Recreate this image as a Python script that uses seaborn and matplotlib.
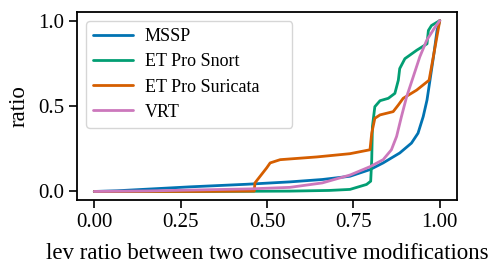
import pandas as pd
import seaborn as sns
import matplotlib.pyplot as plt

# Curve values
mssp_x = [0, 0.066, 0.277, 0.44, 0.566, 0.66, 0.74, 0.798, 0.836, 0.884, 0.918, 0.937,
          0.952, 0.963, 0.973, 0.983, 0.992, 1.0]
mssp_y = [0, 0.004, 0.027, 0.042, 0.056, 0.07, 0.089, 0.128, 0.167, 0.225, 0.283, 0.341,
          0.438, 0.535, 0.670, 0.806, 0.942, 1.0]

snort_x = [0, 0.3, 0.566, 0.68, 0.74, 0.788, 0.80, 0.803, 0.805, 0.812, 0.827, 0.851,
           0.870, 0.880, 0.884, 0.899, 0.933, 0.963, 0.967, 0.976, 1.0]
snort_y = [0, 0.0, 0.002, 0.006, 0.012, 0.041, 0.06, 0.186, 0.38, 0.496, 0.531, 0.545,
           0.574, 0.651, 0.719, 0.777, 0.826, 0.864, 0.942, 0.971, 1.0]

suricata_x = [0, 0.3, 0.463, 0.465, 0.499, 0.509, 0.538, 0.644, 0.74, 0.798, 0.803,
              0.812, 0.827, 0.865, 0.880, 0.894, 0.933, 0.969, 0.976, 0.988, 1.0]
suricata_y = [0, 0.0, 0.002, 0.05, 0.138, 0.167, 0.186, 0.202, 0.221, 0.244, 0.341,
              0.428, 0.448, 0.467, 0.506, 0.545, 0.593, 0.651, 0.729, 0.864, 1.0]

vrt_x = [0, 0.15, 0.277, 0.45, 0.566, 0.66, 0.74, 0.798, 0.836, 0.860, 0.875, 0.889,
         0.904, 0.923, 0.942, 0.962, 0.986, 1.0]
vrt_y = [0, 0.003, 0.008, 0.015, 0.024, 0.05, 0.096, 0.145, 0.186, 0.244, 0.322, 0.438,
         0.554, 0.670, 0.787, 0.884, 0.961, 1.0]

series = {
    "MSSP": (mssp_x, mssp_y),
    "ET Pro Snort": (snort_x, snort_y),
    "ET Pro Suricata": (suricata_x, suricata_y),
    "VRT": (vrt_x, vrt_y),
}

rows = []
for name, (xs, ys) in series.items():
    for x, y in zip(xs, ys):
        rows.append({"source": name, "lev": x, "ratio": y})
df = pd.DataFrame(rows)

sns.set_theme(style="ticks")
plt.rcParams["font.family"] = ["Liberation Serif", "DejaVu Serif"]
plt.rcParams["axes.edgecolor"] = "black"
plt.rcParams["axes.linewidth"] = 1.3
plt.rcParams["xtick.color"] = "black"
plt.rcParams["ytick.color"] = "black"
plt.rcParams["text.color"] = "black"
plt.rcParams["axes.labelcolor"] = "black"

cb = sns.color_palette("colorblind")
colors = {"MSSP": cb[0], "ET Pro Snort": cb[2], "ET Pro Suricata": cb[3], "VRT": cb[4]}

fig, ax = plt.subplots(figsize=(4.92, 2.64), dpi=100)
fig.subplots_adjust(left=0.1565, right=0.929, top=0.9545, bottom=0.2424)

sns.lineplot(data=df, x="lev", y="ratio", hue="source", units="source",
             estimator=None, sort=False, linewidth=2.0, palette=colors, ax=ax)

ax.set_xticks([0.0, 0.25, 0.5, 0.75, 1.0])
ax.set_xticklabels(["0.00", "0.25", "0.50", "0.75", "1.00"])
ax.set_yticks([0.0, 0.5, 1.0])
ax.tick_params(labelsize=15, width=1.2, length=5.5)
ax.set_xlabel("lev ratio between two consecutive modifications", fontsize=16.5, labelpad=8)
ax.set_ylabel("ratio", fontsize=16.5, labelpad=6)

leg = ax.legend(loc="upper left", bbox_to_anchor=(0.0, 0.0, 0.59, 1.0), mode="expand",
                fontsize=13, title=None, handlelength=2.2, labelspacing=0.45,
                borderaxespad=0.5, handletextpad=0.66, borderpad=0.4)
leg.get_frame().set_edgecolor("#cccccc")

plt.savefig("out.png", dpi=100)
